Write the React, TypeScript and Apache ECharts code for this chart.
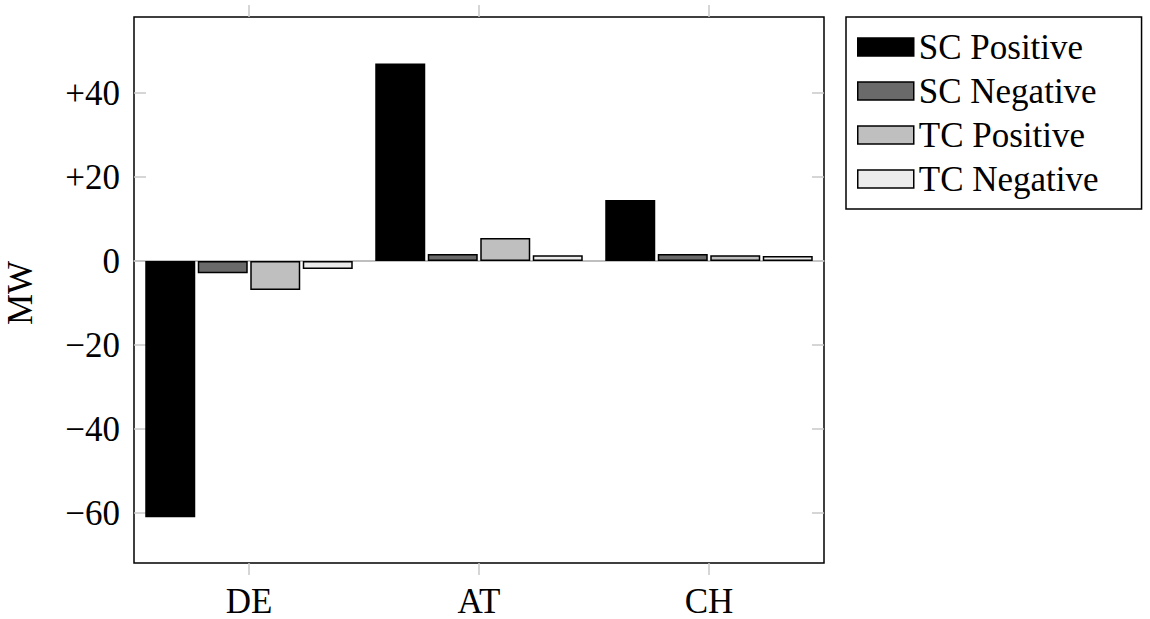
import React, { useEffect, useRef } from "react";
import * as echarts from "echarts";

const categories = ["DE", "AT", "CH"];
const seriesNames = ["SC Positive", "SC Negative", "TC Positive", "TC Negative"];
const scPositive = [-61, 47, 14.5];
const scNegative = [-2.9, 1.7, 1.7];
const tcPositive = [-6.9, 5.5, 1.4];
const tcNegative = [-1.9, 1.4, 1.2];
const yTicks = [-60, -40, -20, 0, 20, 40];
const yMin = -71.9;
const yMax = 58.1;
const fills = ["#000000", "#6a6a6a", "#bfbfbf", "#ebebeb"];

const FONT = "'Liberation Serif', 'Times New Roman', serif";
const FS = 35;

export default function App() {
  const ref = useRef<HTMLDivElement>(null);
  useEffect(() => {
    if (!ref.current) return;
    const chart = echarts.init(ref.current, undefined, { renderer: "svg" });
    const values = [scPositive, scNegative, tcPositive, tcNegative];
    const fmt = (v: number) => (v > 0 ? "+" + v : v < 0 ? "\u2212" + Math.abs(v) : "0");
    const tickStyle = { color: "#c8c8c8", width: 1.5 };
    chart.setOption({
      animation: false,
      backgroundColor: "#ffffff",
      textStyle: { fontFamily: FONT, color: "#000" },
      grid: {
        left: 134,
        top: 17,
        width: 690,
        height: 546,
        show: true,
        borderColor: "#000",
        borderWidth: 1.5,
        backgroundColor: "transparent",
      },
      legend: {
        data: seriesNames,
        orient: "vertical",
        left: 846,
        top: 17,
        padding: [12, 43, 12, 11],
        icon: "rect",
        itemWidth: 56,
        itemHeight: 18,
        itemGap: 8,
        borderColor: "#000",
        borderWidth: 1.5,
        backgroundColor: "#fff",
        textStyle: { fontFamily: FONT, fontSize: FS, color: "#000", lineHeight: 36 },
        itemStyle: { borderColor: "#000", borderWidth: 1.5 },
      },
      graphic: [
        {
          type: "text",
          x: 20,
          y: 293,
          rotation: Math.PI / 2,
          style: {
            text: "MW",
            font: `${FS}px ${FONT}`,
            fill: "#000",
            align: "center",
            verticalAlign: "middle",
          },
        },
      ],
      xAxis: [
        {
          type: "category",
          data: categories,
          position: "bottom",
          axisLine: { show: false, onZero: false },
          axisTick: { show: true, alignWithLabel: true, inside: false, length: 12, lineStyle: tickStyle },
          axisLabel: { color: "#000", fontSize: 35, fontFamily: FONT, margin: 24, lineHeight: 28 },
          splitLine: { show: false },
        },
        {
          type: "category",
          data: categories,
          position: "top",
          axisLine: { show: false, onZero: false },
          axisTick: { show: true, alignWithLabel: true, inside: false, length: 12, lineStyle: tickStyle },
          axisLabel: { show: false },
          splitLine: { show: false },
        },
        {
          type: "category",
          data: categories,
          position: "bottom",
          axisLine: { show: true, onZero: true, onZeroAxisIndex: 0, lineStyle: { color: "#aaaaaa", width: 1.5 } },
          axisTick: { show: false },
          axisLabel: { show: false },
          splitLine: { show: false },
        },
      ],
      yAxis: [
        {
          type: "value",
          min: yMin,
          max: yMax,
          position: "left",
          axisLine: { show: false },
          axisTick: { show: true, inside: true, length: 12, customValues: yTicks, lineStyle: tickStyle },
          axisLabel: { color: "#000", fontSize: FS, fontFamily: FONT, margin: 14, customValues: yTicks, formatter: fmt },
          splitLine: { show: false },
        },
        {
          type: "value",
          min: yMin,
          max: yMax,
          position: "right",
          axisLine: { show: false },
          axisTick: { show: true, inside: true, length: 12, customValues: yTicks, lineStyle: tickStyle },
          axisLabel: { show: false },
          splitLine: { show: false },
        },
      ],
      series: seriesNames.map((name, i) => ({
        name,
        type: "bar",
        xAxisIndex: 0,
        yAxisIndex: 0,
        data: values[i],
        barWidth: 50,
        barGap: "5%",
        itemStyle: { color: fills[i], borderColor: "#000", borderWidth: 1.5 },
      })),
    });
    return () => chart.dispose();
  }, []);
  return (
    <div
      ref={ref}
      style={{ position: "fixed", left: 0, top: 0, width: 1150, height: 619 }}
    />
  );
}
